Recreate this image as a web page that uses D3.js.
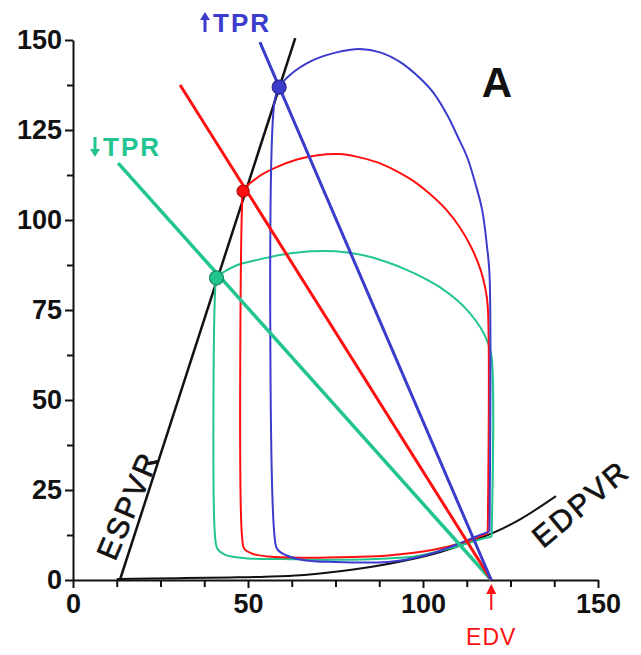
<!DOCTYPE html>
<html>
<head>
<meta charset="utf-8">
<script src="https://cdn.jsdelivr.net/npm/d3@7"></script>
<style>
  body { margin: 0; background: #fff; }
  .axis text { font-family: "Liberation Sans", Arial, sans-serif; font-size: 27px; font-weight: bold; fill: #111; }
  .axis path, .axis line { stroke: #111; stroke-width: 2px; }
  .label { font-family: "Liberation Sans", Arial, sans-serif; }
</style>
</head>
<body>
<div id="chart"></div>
<script>
// tick values
const x_ticks = [0, 50, 100, 150];
const x_minor = [12.5, 25, 37.5, 62.5, 75, 87.5, 112.5, 125, 137.5];
const y_ticks = [0, 25, 50, 75, 100, 125, 150];
const y_minor = [12.5, 37.5, 62.5, 87.5, 112.5, 137.5];

// end-systolic and end-diastolic pressure volume relations (volume, pressure)
const espvr = [[13.4, 0], [63.5, 150.5]];
const edpvr = [[12.5, 0.3], [30, 0.5], [45, 0.7], [55, 0.9], [65, 1.3], [75, 2.3], [85, 3.6], [95, 5.4],
  [105, 7.8], [112, 10.1], [120, 13.1], [128, 17], [138, 23.3]];

// arterial elastance lines, from top end down to EDV
const ea_low = [[12.9, 115.8], [119.5, 0]];
const ea_normal = [[30.6, 137.5], [119.5, 0]];
const ea_high = [[53.4, 149.4], [119.5, 0]];

// pressure-volume loops
const loop_low = [[119.6, 12], [119.6, 62], [118.5, 66], [116.5, 70], [113.5, 74], [110, 77.5], [105, 81.2],
  [100, 84], [95, 86.3], [90, 88.2], [83, 90.2], [75, 91.3], [68, 91.3], [60, 90.4], [53, 89], [47, 87.5],
  [43, 85.5], [41, 83.9], [40.6, 80], [40.6, 12], [41.3, 8.6], [43.5, 7], [50, 6], [60, 5.8], [75, 5.6],
  [90, 6], [98, 6.6], [108, 8.9], [113, 10.3], [116, 11.2], [119.6, 12]];
const loop_normal = [[118.5, 13], [118.5, 76], [117.8, 81], [116.5, 86], [114, 92], [110.5, 98], [106.5, 103],
  [102, 107.2], [97, 111], [92, 113.8], [87, 116], [81, 117.6], [76, 118.3], [70, 118], [64, 116.8],
  [58, 114.6], [53, 112], [48.6, 108], [48.3, 104], [48.3, 12], [49, 8.6], [51.5, 7.2], [56, 6.5],
  [65, 6.2], [80, 6.4], [90, 6.8], [103, 8.4], [110, 10], [115, 11.6], [118.5, 13]];
const loop_high = [[119, 13.5], [119, 85], [118.3, 92.5], [116.9, 102.8], [115, 110], [112.6, 117.5],
  [110, 123], [107, 129], [103, 135.3], [99, 139.5], [93.4, 143.9], [88, 146.5], [82, 147.5], [75, 146.5],
  [68.6, 144.4], [62, 140.3], [58.9, 136.9], [57.6, 133], [57.6, 12], [58.4, 8.5], [61, 6.8], [66, 5.5],
  [75, 5], [90, 5], [95, 5.6], [103, 7.5], [110, 10], [115, 12], [119, 13.5]];

// end-systolic points
const es_low = [41, 83.9];
const es_normal = [48.6, 108];
const es_high = [58.9, 136.9];

const edv = 119.5;

const width = 641, height = 655;
const margin = {left: 73, top: 40, right: 43, bottom: 75};

const svg = d3.select("#chart").append("svg")
  .attr("width", width)
  .attr("height", height);

const x = d3.scaleLinear().domain([0, 150]).range([margin.left, width - margin.right]);
const y = d3.scaleLinear().domain([0, 150]).range([height - margin.bottom, margin.top]);

const line = d3.line()
  .x(function (d) { return x(d[0]); })
  .y(function (d) { return y(d[1]); });
const smooth = d3.line()
  .x(function (d) { return x(d[0]); })
  .y(function (d) { return y(d[1]); })
  .curve(d3.curveCatmullRom.alpha(0.5));

const blue = "#3b3bcc", red = "#ff1010", green = "#22c48f";

// axes
svg.append("g").attr("class", "axis")
  .attr("transform", "translate(0," + y(0) + ")")
  .call(d3.axisBottom(x).tickValues(x_ticks).tickSize(8).tickSizeOuter(0).tickPadding(6));
svg.append("g").attr("class", "axis")
  .attr("transform", "translate(0," + y(0) + ")")
  .call(d3.axisBottom(x).tickValues(x_minor).tickSize(7).tickFormat(""))
  .select(".domain").remove();
svg.append("g").attr("class", "axis")
  .attr("transform", "translate(" + x(0) + ",0)")
  .call(d3.axisLeft(y).tickValues(y_ticks).tickSize(8).tickSizeOuter(0).tickPadding(3));
svg.append("g").attr("class", "axis")
  .attr("transform", "translate(" + x(0) + ",0)")
  .call(d3.axisLeft(y).tickValues(y_minor).tickSize(6).tickFormat(""))
  .select(".domain").remove();

// relations
svg.append("path").datum(edpvr)
  .attr("d", smooth).attr("fill", "none").attr("stroke", "#111").attr("stroke-width", 2);
svg.append("path").datum(espvr)
  .attr("d", line).attr("fill", "none").attr("stroke", "#111").attr("stroke-width", 2.5);

// loops
[[loop_low, green], [loop_normal, red], [loop_high, blue]].forEach(function (l) {
  svg.append("path").datum(l[0])
    .attr("d", smooth).attr("fill", "none").attr("stroke", l[1]).attr("stroke-width", 2)
    .attr("stroke-linejoin", "round");
});

// Ea lines
[[ea_low, green, 3.5], [ea_normal, red, 3], [ea_high, blue, 3]].forEach(function (l) {
  svg.append("path").datum(l[0])
    .attr("d", line).attr("fill", "none").attr("stroke", l[1]).attr("stroke-width", l[2]);
});

// end-systolic points
[[es_low, green, 7], [es_normal, red, 6], [es_high, blue, 7]].forEach(function (p) {
  svg.append("circle")
    .attr("cx", x(p[0][0])).attr("cy", y(p[0][1])).attr("r", p[2])
    .attr("fill", p[1]).attr("stroke", d3.color(p[1]).darker(1)).attr("stroke-width", 1.2);
});

// TPR labels with drawn arrows
function tpr_label(tx, ty, color, up) {
  const ax = tx - 8, top = ty - 19, bottom = ty;
  svg.append("line")
    .attr("x1", ax).attr("x2", ax)
    .attr("y1", up ? top + 5 : top).attr("y2", up ? bottom : bottom - 5)
    .attr("stroke", color).attr("stroke-width", 3);
  svg.append("path")
    .attr("d", up ? "M" + ax + "," + (top - 1) + "l-5,8h10z" : "M" + ax + "," + (bottom + 1) + "l-5,-8h10z")
    .attr("fill", color);
  svg.append("text").attr("class", "label")
    .attr("x", tx).attr("y", ty)
    .attr("fill", color).attr("font-size", 26).attr("font-weight", "bold").attr("letter-spacing", 2)
    .text("TPR");
}
tpr_label(213, 32, blue, true);
tpr_label(103, 156, green, false);

svg.append("text").attr("class", "label")
  .attr("x", 497).attr("y", 97).attr("text-anchor", "middle")
  .attr("fill", "#111").attr("font-size", 42).attr("font-weight", "bold")
  .text("A");
svg.append("text").attr("class", "label")
  .attr("transform", "translate(115,562) rotate(-67)")
  .attr("fill", "#111").attr("stroke", "#111").attr("stroke-width", 0.7)
  .attr("font-size", 30).attr("letter-spacing", 2.5)
  .text("ESPVR");
svg.append("text").attr("class", "label")
  .attr("transform", "translate(543,549) rotate(-40)")
  .attr("fill", "#111").attr("stroke", "#111").attr("stroke-width", 0.7)
  .attr("font-size", 30).attr("letter-spacing", 2.5)
  .text("EDPVR");

// EDV marker
const ex = x(edv);
svg.append("line")
  .attr("x1", ex).attr("x2", ex).attr("y1", y(0) + 30).attr("y2", y(0) + 12)
  .attr("stroke", red).attr("stroke-width", 2);
svg.append("path")
  .attr("d", "M" + ex + "," + (y(0) + 4) + "l-5,10h10z")
  .attr("fill", red);
svg.append("text").attr("class", "label")
  .attr("x", ex).attr("y", y(0) + 65).attr("text-anchor", "middle")
  .attr("fill", red).attr("font-size", 23).attr("letter-spacing", 1)
  .text("EDV");
</script>
</body>
</html>
